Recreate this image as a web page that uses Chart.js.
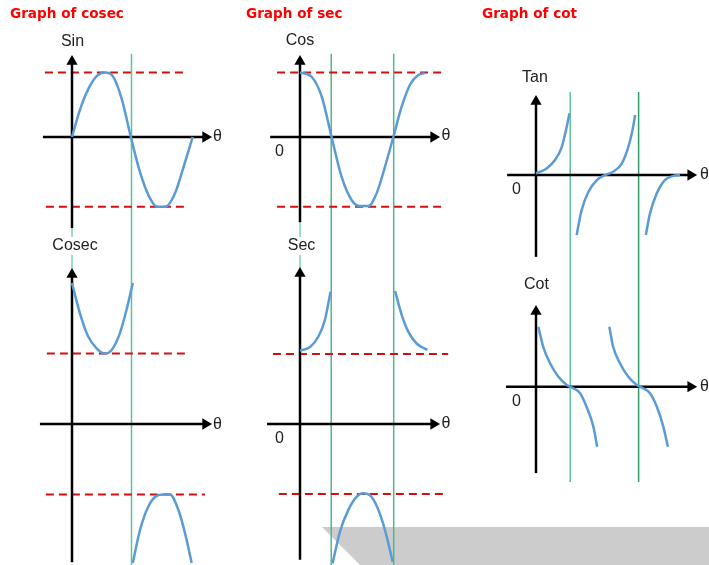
<!DOCTYPE html>
<html>
<head>
<meta charset="utf-8">
<script src="https://cdn.jsdelivr.net/npm/chart.js@4.4.1/dist/chart.umd.min.js"></script>
<style>
  html, body { margin: 0; padding: 0; background: #fff; }
  #wrap { position: relative; width: 709px; height: 565px; overflow: hidden; }
  #shade { position: absolute; left: 0; top: 0; width: 709px; height: 565px; background: #cccccc;
    clip-path: polygon(322px 527px, 709px 527px, 709px 565px, 360px 565px); }
  canvas { position: absolute; left: 0; top: 0; }
</style>
</head>
<body>
<div id="wrap">
  <div id="shade"></div>
  <canvas id="trig" width="709" height="565"></canvas>
</div>
<script>
(() => {
  'use strict'

  // curves: [theta (deg), value]
  const sinCurve = [[0, 0], [24, 0.42], [48, 0.73], [76, 0.95], [100, 1.0], [124, 0.94], [151, 0.58],
    [178, 0], [206, -0.55], [233, -0.92], [257, -1.08], [284, -1.08], [312, -0.87], [339, -0.44], [365, 0]]
  const cosecUpper = [[0, 2.0], [24, 1.57], [49, 1.24], [75, 1.07], [100, 1.0], [120, 1.05], [145, 1.29], [165, 1.62], [184, 2.0]]
  const cosecLower = [[184, -1.97], [206, -1.5], [231, -1.17], [256, -1.02], [276, -1.0], [296, -1.0], [322, -1.22], [342, -1.55], [362, -1.97]]

  const cosCurve = [[0, 1.0], [34, 0.93], [63, 0.62], [91, 0], [120, -0.62], [149, -0.98], [173, -1.07],
    [197, -1.07], [221, -0.87], [245, -0.46], [269, 0], [293, 0.47], [317, 0.81], [341, 0.96], [360, 0.99]]
  const secLeft = [[0, 1.05], [29, 1.1], [53, 1.25], [72, 1.49], [88, 1.89]]
  const secRight = [[274, 1.9], [293, 1.56], [312, 1.32], [336, 1.15], [367, 1.06]]
  const secLower = [[94, -1.99], [115, -1.54], [139, -1.23], [163, -1.04], [182, -0.99], [206, -1.04], [230, -1.28], [250, -1.61], [267, -1.97]]

  const tanA = [[0, 0.05], [28, 0.22], [50, 0.5], [68, 0.94], [79, 1.5], [88, 2.06]]
  const tanB = [[107, -2.0], [120, -1.17], [138, -0.56], [160, -0.17], [182, 0], [203, 0.11], [226, 0.39], [243, 0.94], [254, 1.5], [261, 2.0]]
  const tanC = [[289, -2.0], [300, -1.28], [318, -0.61], [339, -0.17], [361, -0.03], [379, 0]]
  const cotA = [[6, 2.0], [19, 1.33], [37, 0.78], [59, 0.33], [81, 0.06], [98, -0.05], [116, -0.22], [133, -0.67], [151, -1.33], [161, -2.0]]
  const cotB = [[193, 2.0], [203, 1.33], [221, 0.78], [243, 0.33], [265, 0.06], [282, -0.05], [300, -0.22], [318, -0.67], [335, -1.33], [347, -2.0]]

  // reference levels: [value, theta from, theta to]
  const sinLevels = [[1, -82, 336], [-1.08, -79, 342]]
  const cosecLevels = [[1, -76, 345], [-1, -79, 402]]
  const cosLevels = [[1, -66, 409], [-1.08, -66, 409]]
  const secLevels = [[1, -78, 427], [-1, -61, 418]]

  // asymptote markers (theta)
  const col1Marks = [180]
  const col2Marks = [90, 270]
  const col3Marks = [90, 270]

  // axis extents: theta [from, to], value [from, to]
  const axes = {
    sin: { t: [-88, 404], v: [-1.41, 1.17] },
    cosec: { t: [-97, 404], v: [-1.96, 2.12] },
    cos: { t: [-86, 385], v: [-1.32, 1.17] },
    sec: { t: [-95, 385], v: [-1.94, 2.15] },
    tan: { t: [-76, 407], v: [-2.73, 2.45] },
    cot: { t: [-79, 407], v: [-2.88, 2.51] }
  }

  const W = 709, H = 565
  const xScale = (px0, k) => ({ type: 'linear', display: false, bounds: 'data', min: -px0 / k, max: (W - px0) / k })
  const yScale = (py0, k) => ({ type: 'linear', display: false, bounds: 'data', min: -(H - py0) / k, max: py0 / k })

  const BLUE = '#5b9bd5'
  const pts = (arr) => arr.map(([x, y]) => ({ x, y }))

  const curve = (data, xAxisID, yAxisID) => ({
    data: pts(data), xAxisID, yAxisID, showLine: true, pointRadius: 0,
    borderColor: BLUE, borderWidth: 2.5, cubicInterpolationMode: 'monotone', order: 1
  })
  const axisPair = (a, xAxisID, yAxisID) => [
    { data: pts([[a.t[0], 0], [a.t[1], 0]]), xAxisID, yAxisID, showLine: true, borderColor: '#000', borderWidth: 2.5,
      pointRadius: [0, 6.5], pointStyle: 'triangle', rotation: 90, pointBackgroundColor: '#000', pointBorderWidth: 0, order: 2 },
    { data: pts([[0, a.v[0]], [0, a.v[1]]]), xAxisID, yAxisID, showLine: true, borderColor: '#000', borderWidth: 2.5,
      pointRadius: [0, 6.5], pointStyle: 'triangle', rotation: 0, pointBackgroundColor: '#000', pointBorderWidth: 0, order: 2 }
  ]
  const levels = (list, xAxisID, yAxisID) => list.map(([v, a, b]) => ({
    data: pts([[a, v], [b, v]]), xAxisID, yAxisID, showLine: true, pointRadius: 0,
    borderColor: '#d01010', borderWidth: 2, borderDash: [8, 5], order: 3
  }))
  const marks = (list, xAxisID, yAxisID, span, colors) => list.map((t, i) => ({
    data: pts([[t, span[0]], [t, span[1]]]), xAxisID, yAxisID, showLine: true, pointRadius: 0,
    borderColor: colors[i], borderWidth: 1.5, order: 4
  }))

  const datasets = [
    curve(sinCurve, 'x1', 'ySin'), curve(cosecUpper, 'x1', 'yCsc'), curve(cosecLower, 'x1', 'yCsc'),
    curve(cosCurve, 'x2', 'yCos'), curve(secLeft, 'x2', 'ySec'), curve(secRight, 'x2', 'ySec'), curve(secLower, 'x2', 'ySec'),
    curve(tanA, 'x3', 'yTan'), curve(tanB, 'x3', 'yTan'), curve(tanC, 'x3', 'yTan'),
    curve(cotA, 'x3', 'yCot'), curve(cotB, 'x3', 'yCot'),
    ...axisPair(axes.sin, 'x1', 'ySin'), ...axisPair(axes.cosec, 'x1', 'yCsc'),
    ...axisPair(axes.cos, 'x2', 'yCos'), ...axisPair(axes.sec, 'x2', 'ySec'),
    ...axisPair(axes.tan, 'x3', 'yTan'), ...axisPair(axes.cot, 'x3', 'yCot'),
    ...levels(sinLevels, 'x1', 'ySin'), ...levels(cosecLevels, 'x1', 'yCsc'),
    ...levels(cosLevels, 'x2', 'yCos'), ...levels(secLevels, 'x2', 'ySec'),
    ...marks(col1Marks, 'x1', 'ySin', [1.29, -6.7], ['#5cc49a']),
    ...marks(col2Marks, 'x2', 'yCos', [1.29, -6.7], ['#4cb98a', '#4cb98a']),
    ...marks(col3Marks, 'x3', 'yTan', [2.77, -10.23], ['#5cc49a', '#2f9b6b']),
    // faint guide along the y axes between the two panels
    ...marks([0], 'x1', 'ySin', [-1.4, -2.05], ['#7fd3b0']),
    ...marks([0], 'x2', 'yCos', [-1.3, -2.03], ['#7fd3b0'])
  ]

  // text placed on the page (pixels)
  const AX = '16px "Liberation Sans", Arial, sans-serif'
  const TITLE = 'bold 13.6px "DejaVu Sans", Verdana, sans-serif'
  const texts = [
    { s: 'Graph of cosec', x: 10, y: 18, f: TITLE, c: '#ff0000', a: 'left', b: 'alphabetic' },
    { s: 'Graph of sec', x: 246, y: 18, f: TITLE, c: '#ff0000', a: 'left', b: 'alphabetic' },
    { s: 'Graph of cot', x: 482, y: 18, f: TITLE, c: '#ff0000', a: 'left', b: 'alphabetic' },
    { s: 'Sin', x: 72.5, y: 42 }, { s: 'Cosec', x: 75, y: 246, bg: true },
    { s: 'Cos', x: 300, y: 41 }, { s: 'Sec', x: 301.5, y: 246, bg: true },
    { s: 'Tan', x: 535, y: 78 }, { s: 'Cot', x: 536.5, y: 285 },
    { s: 'θ', x: 217.5, y: 137 }, { s: 'θ', x: 217.5, y: 425 },
    { s: 'θ', x: 446, y: 136 }, { s: 'θ', x: 446, y: 424 },
    { s: 'θ', x: 704.5, y: 175 }, { s: 'θ', x: 704.5, y: 387 },
    { s: '0', x: 279.5, y: 152 }, { s: '0', x: 279.5, y: 439 },
    { s: '0', x: 516.5, y: 190 }, { s: '0', x: 516.5, y: 402 }
  ]

  const textPlugin = {
    id: 'pageText',
    afterDraw(chart) {
      const ctx = chart.ctx
      ctx.save()
      texts.forEach(t => {
        ctx.font = t.f || AX
        ctx.textAlign = t.a || 'center'
        ctx.textBaseline = t.b || 'middle'
        if (t.bg) {
          const w = ctx.measureText(t.s).width
          ctx.fillStyle = '#fff'
          ctx.fillRect(t.x - w / 2 - 2, t.y - 9, w + 4, 18)
        }
        ctx.fillStyle = t.c || '#222'
        ctx.fillText(t.s, t.x, t.y)
      })
      ctx.restore()
    }
  }

  const ctx = document.getElementById('trig').getContext('2d')
  new Chart(ctx, {
    type: 'scatter',
    data: { datasets },
    options: {
      responsive: false,
      animation: false,
      devicePixelRatio: 1,
      layout: { padding: 0, autoPadding: false },
      plugins: { legend: { display: false }, tooltip: { enabled: false } },
      scales: {
        x1: xScale(72, 59.5 / 180),
        x2: xScale(300, 0.347),
        x3: xScale(536, 0.38),
        ySin: yScale(137, 64.5),
        yCsc: yScale(424, 70.5),
        yCos: yScale(137, 64.5),
        ySec: yScale(424, 70),
        yTan: yScale(175, 30),
        yCot: yScale(386.7, 30)
      }
    },
    plugins: [textPlugin]
  })
})()
</script>
</body>
</html>
